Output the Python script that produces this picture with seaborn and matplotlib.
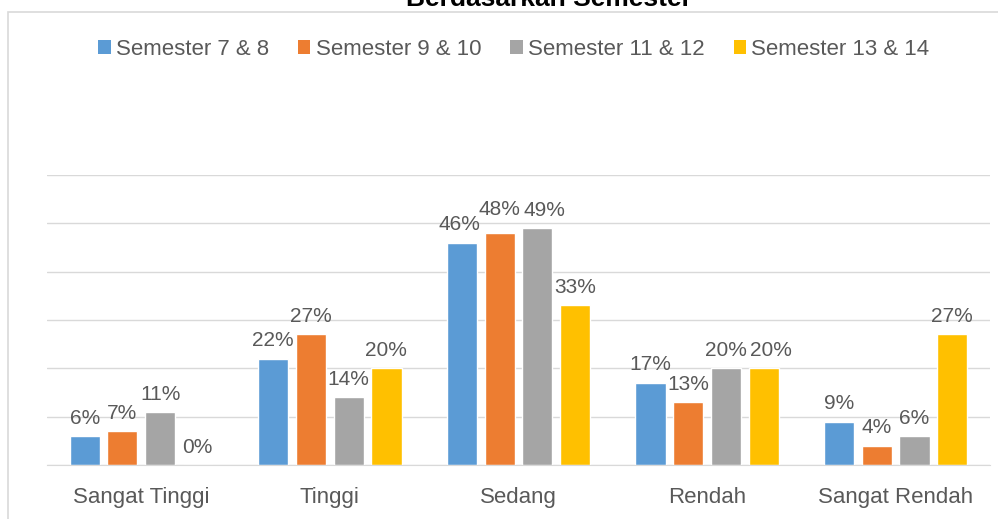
import matplotlib.pyplot as plt
from matplotlib.patches import Patch, Rectangle
import seaborn as sns
import pandas as pd

kategori = ["Sangat Tinggi", "Tinggi", "Sedang", "Rendah", "Sangat Rendah"]
sem_7_8 = [6, 22, 46, 17, 9]
sem_9_10 = [7, 27, 48, 13, 4]
sem_11_12 = [11, 14, 49, 20, 6]
sem_13_14 = [0, 20, 33, 20, 27]
seri = ["Semester 7 & 8", "Semester 9 & 10", "Semester 11 & 12", "Semester 13 & 14"]
warna = ["#5B9BD5", "#ED7D31", "#A5A5A5", "#FFC000"]

rows = []
for s, vals in zip(seri, [sem_7_8, sem_9_10, sem_11_12, sem_13_14]):
    for k, v in zip(kategori, vals):
        rows.append({"Kategori": k, "Semester": s, "Nilai": v})
df = pd.DataFrame(rows)

sns.set_style("white")
plt.rcParams['font.family'] = ['Liberation Sans', 'DejaVu Sans']
teks = "#595959"

fig = plt.figure(figsize=(9.98, 5.19), dpi=100)
ax = fig.add_axes([0.047, 0.104, 0.945, 0.559])

sns.barplot(data=df, x="Kategori", y="Nilai", hue="Semester", order=kategori,
            hue_order=seri, palette=warna, width=0.8, gap=0.2, ax=ax,
            legend=False, errorbar=None, saturation=1)

# geser label yang bertumpuk (dalam poin), seperti di Excel
geser = {(2, 0): (-2, 0), (2, 1): (0, 4), (2, 2): (5, 0), (3, 3): (5, 0)}

for j, cont in enumerate(ax.containers):
    for i, bar in enumerate(cont):
        h = bar.get_height()
        dx, dy = geser.get((i, j), (0, 0))
        ax.annotate(f"{h:.0f}%", (bar.get_x() + bar.get_width() / 2, h),
                    xytext=(dx, 6 + dy), textcoords="offset points",
                    ha="center", va="bottom", fontsize=15, color=teks)

ax.set_ylim(0, 60)
ax.set_xlim(-0.5, 4.5)
ax.set_yticks(range(0, 61, 10))
ax.yaxis.grid(True, color="#D9D9D9", linewidth=1)
ax.set_axisbelow(True)
ax.tick_params(axis="y", left=False, labelleft=False)
ax.tick_params(axis="x", bottom=False, labelsize=16, labelcolor=teks, pad=12)
ax.set_xlabel("")
ax.set_ylabel("")
for side in ["top", "right", "left"]:
    ax.spines[side].set_visible(False)
ax.spines["bottom"].set_color("#D9D9D9")

# bingkai grafik
fig.patches.append(Rectangle((8 / 998, -0.01), 1.0, 1 - 12 / 519 + 0.01,
                             transform=fig.transFigure, fill=False,
                             edgecolor="#D9D9D9", linewidth=1.2))

fig.text(0.55, 0.988, "Berdasarkan Semester", ha="center", va="baseline",
         fontsize=19, fontweight="bold", color="black")

handles = [Patch(facecolor=c, edgecolor="none") for c in warna]
fig.legend(handles, seri, loc="center", bbox_to_anchor=(0.515, 0.905), ncol=4,
           frameon=False, fontsize=16, labelcolor=teks, handlelength=0.55,
           handleheight=0.55, handletextpad=0.25, columnspacing=1.3)

plt.savefig("out.png", dpi=100)
